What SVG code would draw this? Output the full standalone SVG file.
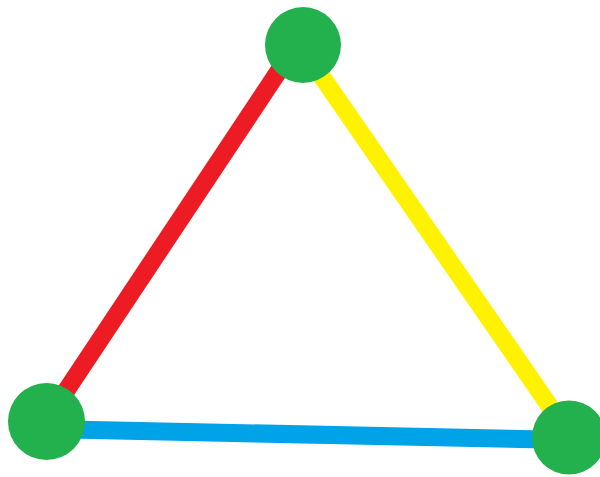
<svg xmlns="http://www.w3.org/2000/svg" width="600" height="477" viewBox="0 0 600 477">
  <style>
    .edge { fill: none; stroke-width: 18; stroke-linecap: butt; }
    .node { fill: #22B14C; }
  </style>
  <rect width="600" height="477" fill="#ffffff"/>
  <g id="connectors">
    <line class="edge" x1="296" y1="45" x2="46" y2="421" stroke="#ED1C24"/>
    <line class="edge" x1="300" y1="45" x2="571" y2="437" stroke="#FFF200"/>
    <line class="edge" x1="46" y1="429" x2="569" y2="440" stroke="#00A2E8"/>
  </g>
  <g id="node-top"><circle class="node" cx="303" cy="45" r="38"/></g>
  <g id="node-left"><circle class="node" cx="46.5" cy="421.5" r="38.5"/></g>
  <g id="node-right"><circle class="node" cx="569" cy="437.5" r="37"/></g>
</svg>
